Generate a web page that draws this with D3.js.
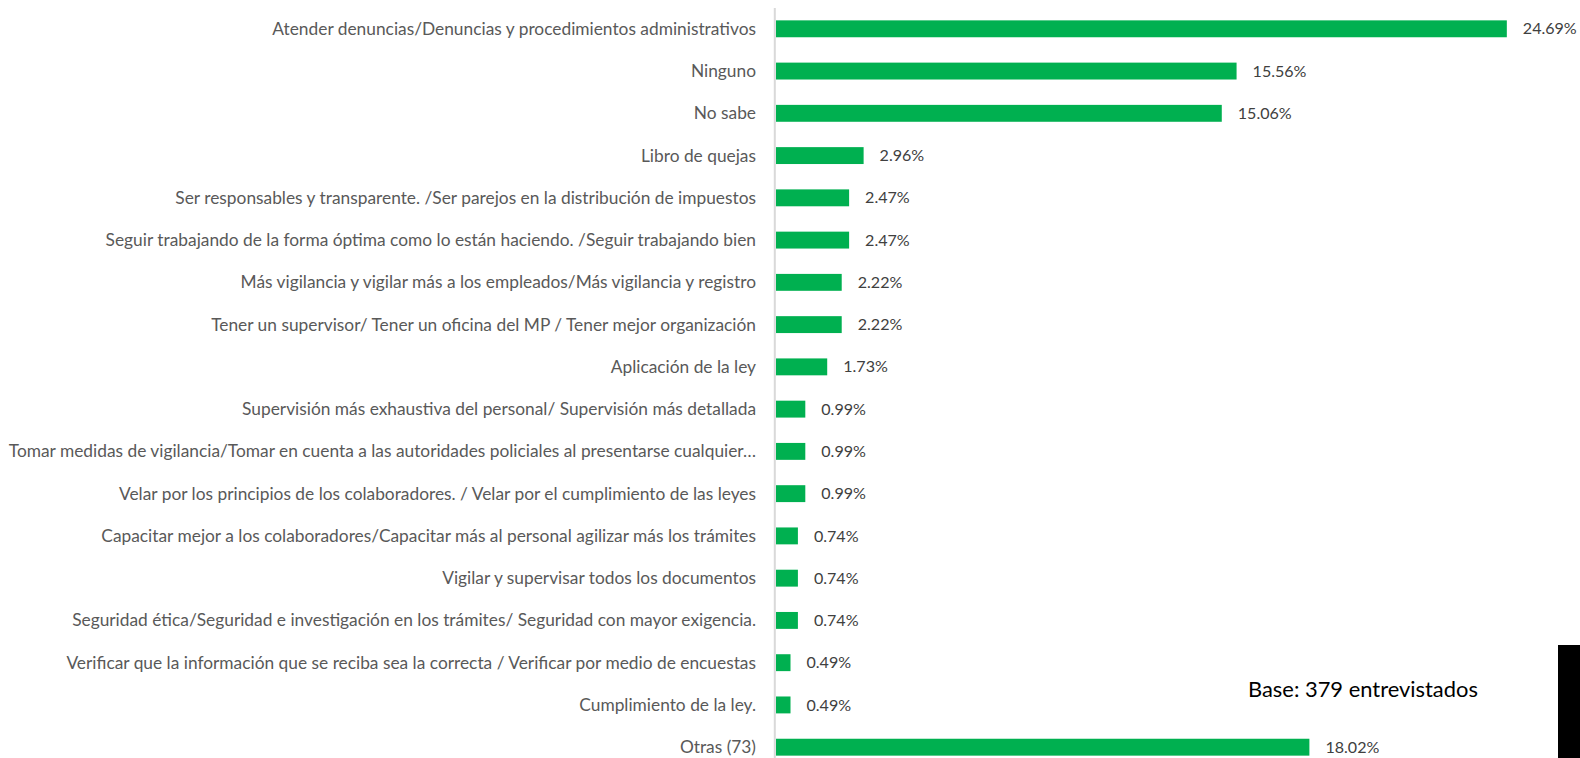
<!DOCTYPE html>
<html>
<head>
<meta charset="utf-8">
<script src="https://cdn.jsdelivr.net/npm/d3@7"></script>
<style>
  body { margin: 0; background: #fff; }
  svg { display: block; }
  .cat { fill: #595959; font-family: Lato, "Open Sans", sans-serif; }
  .val { fill: #404040; font-family: Lato, "Open Sans", sans-serif; }
</style>
</head>
<body>
<div id="chart"></div>
<script>
var width = 1580;
var height = 758;

var categories = [
  "Atender denuncias/Denuncias y procedimientos administrativos",
  "Ninguno",
  "No sabe",
  "Libro de quejas",
  "Ser responsables y transparente. /Ser parejos en la distribución de impuestos",
  "Seguir trabajando de la forma óptima como lo están haciendo. /Seguir trabajando bien",
  "Más vigilancia y vigilar más a los empleados/Más vigilancia y registro",
  "Tener un supervisor/ Tener un oficina del MP / Tener mejor organización",
  "Aplicación de la ley",
  "Supervisión más exhaustiva del personal/ Supervisión más detallada",
  "Tomar medidas de vigilancia/Tomar en cuenta a las autoridades policiales al presentarse cualquier…",
  "Velar por los principios de los colaboradores. / Velar por el cumplimiento de las leyes",
  "Capacitar mejor a los colaboradores/Capacitar más al personal agilizar más los trámites",
  "Vigilar y supervisar todos los documentos",
  "Seguridad ética/Seguridad e investigación en los trámites/ Seguridad con mayor exigencia.",
  "Verificar que la información que se reciba sea la correcta / Verificar por medio de encuestas",
  "Cumplimiento de la ley.",
  "Otras (73)"
];
var values = [24.69, 15.56, 15.06, 2.96, 2.47, 2.47, 2.22, 2.22, 1.73,
  0.99, 0.99, 0.99, 0.74, 0.74, 0.74, 0.49, 0.49, 18.02];
var baseNote = "Base: 379 entrevistados";

var data = categories.map(function(c, i) {
  return { cat: c, value: values[i] };
});

var svg = d3.select("#chart")
  .append("svg")
  .attr("width", width)
  .attr("height", height);

var xScale = d3.scaleLinear()
  .domain([0, 25])
  .range([776, 1516]);

var yScale = d3.scaleBand()
  .domain(categories)
  .range([-5, 781])
  .padding(0.6);

// axis line
svg.append("line")
  .attr("x1", 774.8).attr("x2", 774.8)
  .attr("y1", 8).attr("y2", height)
  .attr("stroke", "#d9d9d9")
  .attr("stroke-width", 2);

svg.selectAll("rect.bar")
  .data(data)
  .enter()
  .append("rect")
  .attr("class", "bar")
  .attr("x", xScale(0))
  .attr("y", function(d) { return yScale(d.cat); })
  .attr("width", function(d) { return xScale(d.value) - xScale(0); })
  .attr("height", yScale.bandwidth())
  .attr("fill", "#00b050");

var cats = svg.selectAll("text.cat")
  .data(data)
  .enter()
  .append("text")
  .attr("class", "cat")
  .attr("x", 756)
  .attr("y", function(d) { return yScale(d.cat) + yScale.bandwidth() / 2; })
  .attr("dy", "0.35em")
  .attr("text-anchor", "end")
  .style("font-size", "15px")
  .text(function(d) { return d.cat; });

// fit label size so the first label spans like the reference
var w0 = cats.node().getComputedTextLength();
var catSize = 15 * 484 / w0;
cats.style("font-size", catSize + "px");

var vals = svg.selectAll("text.val")
  .data(data)
  .enter()
  .append("text")
  .attr("class", "val")
  .attr("x", function(d) { return xScale(d.value) + 16; })
  .attr("y", function(d) { return yScale(d.cat) + yScale.bandwidth() / 2; })
  .attr("dy", "0.35em")
  .style("font-size", "15px")
  .text(function(d) { return d.value.toFixed(2) + "%"; });

var wv = vals.node().getComputedTextLength();
vals.style("font-size", (15 * 54 / wv) + "px");

var base = svg.append("text")
  .attr("x", 1248)
  .attr("y", 697)
  .attr("fill", "#000")
  .style("font-family", "Lato, 'Open Sans', sans-serif")
  .style("font-size", "20px")
  .text(baseNote);
var wb = base.node().getComputedTextLength();
base.style("font-size", (20 * 230 / wb) + "px");

svg.append("rect")
  .attr("x", 1558)
  .attr("y", 645)
  .attr("width", 22)
  .attr("height", height - 645)
  .attr("fill", "#000");
</script>
</body>
</html>
